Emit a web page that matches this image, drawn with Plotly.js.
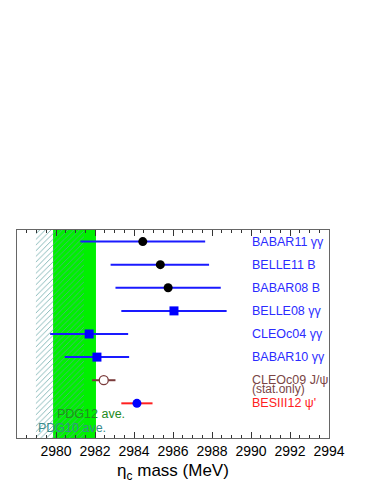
<!DOCTYPE html>
<html>
<head>
<meta charset="utf-8">
<script src="https://cdn.plot.ly/plotly-3.0.1.min.js"></script>
<style>body{margin:0;background:#fff}#chart{width:374px;height:484px}</style>
</head>
<body>
<div id="chart"></div>
<script>
// eta_c mass measurements
const experiments = ['BABAR11 γγ', 'BELLE11 B', 'BABAR08 B', 'BELLE08 γγ',
                     'CLEOc04 γγ', 'BABAR10 γγ', 'CLEOc09 J/ψ', "BESIII12 ψ'"];
const masses   = [2984.45, 2985.35, 2985.75, 2986.05, 2981.7, 2982.1, 2982.45, 2984.15];
const errPlus  = [3.2, 2.5, 2.7, 2.7, 2.0, 1.65, 0.6, 0.8];
const errMinus = [3.2, 2.55, 2.7, 2.7, 2.0, 1.65, 0.6, 0.8];

// PDG averages (bands)
const pdgNames = ['PDG12 ave.', 'PDG10 ave.'];
const pdgMean  = [2980.95, 2980.2];
const pdgErr   = [1.1, 1.23];

const tickVals = [2980, 2982, 2984, 2986, 2988, 2990, 2992, 2994];

const symbols   = ['circle', 'circle', 'circle', 'square', 'square', 'square', 'circle', 'circle'];
const mkFill    = ['black', 'black', 'black', '#0000ff', '#0000ff', '#0000ff', 'white', '#0000ff'];
const mkLine    = ['black', 'black', 'black', '#0000ff', '#0000ff', '#0000ff', '#7a3b3b', '#0000ff'];
const barColors = ['#1a1aff', '#1a1aff', '#1a1aff', '#1a1aff', '#1a1aff', '#1a1aff', '#7a3b3b', '#ff2020'];
const txtColors = ['#2b2bff', '#2b2bff', '#2b2bff', '#2b2bff', '#2b2bff', '#2b2bff', '#7a4545', '#ff2020'];

const FONT = 'Liberation Sans, Arial, sans-serif';
const traces = [];

// bands
traces.push({
  type: 'bar', orientation: 'h',
  y: [4], x: [2 * pdgErr[0]], base: [pdgMean[0] - pdgErr[0]], width: 9,
  marker: {color: '#00f000', line: {width: 0}},
  hoverinfo: 'skip', showlegend: false
});
traces.push({
  type: 'bar', orientation: 'h',
  y: [4], x: [2 * pdgErr[1]], base: [pdgMean[1] - pdgErr[1]], width: 9,
  marker: {color: 'rgba(0,0,0,0)', line: {width: 0},
           pattern: {shape: '/', fgcolor: '#5a9f9f', bgcolor: 'rgba(0,0,0,0)', size: 4, solidity: 0.18}},
  hoverinfo: 'skip', showlegend: false
});

experiments.forEach((name, i) => {
  traces.push({
    type: 'scatter', mode: 'markers',
    x: [masses[i]], y: [i],
    error_x: {type: 'data', symmetric: false, array: [errPlus[i]], arrayminus: [errMinus[i]],
              color: barColors[i], thickness: 2, width: 0},
    marker: {symbol: symbols[i], color: mkFill[i], size: 9,
             line: {color: mkLine[i], width: mkFill[i] === 'white' ? 1.3 : 0}},
    showlegend: false
  });
});

const annotations = experiments.map((name, i) => ({
  x: 2989.95, y: i, xref: 'x', yref: 'y', xanchor: 'left', yanchor: 'middle',
  text: name, showarrow: false,
  font: {family: FONT, size: 12.5, color: txtColors[i]}
}));
annotations.push({
  x: 2989.95, y: 6.4, xref: 'x', yref: 'y', xanchor: 'left', yanchor: 'middle',
  text: '(stat.only)', showarrow: false,
  font: {family: FONT, size: 12, color: txtColors[6]}
});
annotations.push({
  x: 2979.95, y: 7.45, xref: 'x', yref: 'y', xanchor: 'left', yanchor: 'middle',
  text: pdgNames[0], showarrow: false,
  font: {family: FONT, size: 12.5, color: '#238b23'}
});
annotations.push({
  x: 2978.95, y: 8.05, xref: 'x', yref: 'y', xanchor: 'left', yanchor: 'middle',
  text: pdgNames[1], showarrow: false,
  font: {family: FONT, size: 12.5, color: '#3a8c8c'}
});

const layout = {
  width: 374, height: 484,
  margin: {l: 17, r: 45, t: 230, b: 46},
  paper_bgcolor: 'white', plot_bgcolor: 'white',
  barmode: 'overlay',
  showlegend: false,
  font: {family: FONT, color: 'black'},
  xaxis: {
    range: [2978, 2994], tickmode: 'array', tickvals: tickVals,
    ticks: 'inside', ticklen: 6, tickcolor: '#333', mirror: 'allticks',
    minor: {dtick: 0.5, tick0: 2978, ticks: 'inside', ticklen: 3, tickcolor: '#333'},
    showline: true, linecolor: '#666', linewidth: 1,
    showgrid: false, zeroline: false,
    tickfont: {size: 14, color: 'black'},
    title: {text: 'η<sub>c</sub> mass (MeV)', font: {size: 17, color: 'black'}, standoff: 6}
  },
  yaxis: {
    range: [8.5, -0.5], showticklabels: false, ticks: '',
    showline: true, linecolor: '#666', linewidth: 1, mirror: true,
    showgrid: false, zeroline: false
  },
  annotations: annotations
};

Plotly.newPlot('chart', traces, layout, {staticPlot: true});
</script>
</body>
</html>
